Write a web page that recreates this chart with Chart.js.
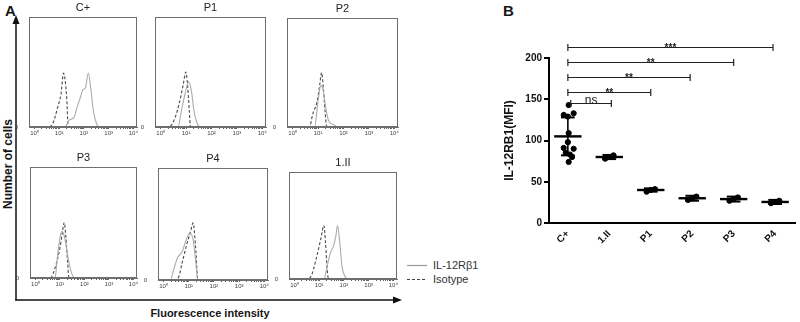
<!DOCTYPE html>
<html>
<head>
<meta charset="utf-8">
<script src="https://cdn.jsdelivr.net/npm/chart.js@4.4.0/dist/chart.umd.min.js"></script>
<style>
  body { margin: 0; background: #fff; font-family: "Liberation Sans", Arial, sans-serif; color: #151515; }
  #fig { position: relative; width: 800px; height: 322px; overflow: hidden; }
  .abs { position: absolute; }
  .panel-label { font-weight: bold; font-size: 15px; line-height: 15px; }
  .axis-title { font-weight: bold; white-space: nowrap; }
  .legend-text { font-size: 11px; color: #333; line-height: 11px; }
</style>
</head>
<body>
<div id="fig">
  <svg class="abs" style="left:0;top:0" width="800" height="322">
    <!-- panel A axes with arrows -->
    <line x1="16" y1="300.5" x2="16" y2="22" stroke="#111" stroke-width="1.5"/>
    <polygon points="16,15 12.5,24 19.5,24" fill="#111"/>
    <line x1="15.3" y1="300" x2="394" y2="300" stroke="#111" stroke-width="1.5"/>
    <polygon points="402,300 393,296.5 393,303.5" fill="#111"/>
    <!-- legend -->
    <line x1="407" y1="265.5" x2="427" y2="265.5" stroke="#9a9a9a" stroke-width="1.2"/>
    <line x1="407" y1="279.5" x2="427" y2="279.5" stroke="#444" stroke-width="1.2" stroke-dasharray="3,2"/>
  </svg>
  <div class="abs panel-label" style="left:5px;top:3px">A</div>
  <div class="abs panel-label" style="left:503px;top:3px">B</div>
  <div class="abs axis-title" style="left:8px;top:164px;font-size:12px;transform:translate(-50%,-50%) rotate(-90deg)">Number of cells</div>
  <div class="abs axis-title" style="left:210px;top:313px;font-size:11px;transform:translate(-50%,-50%)">Fluorescence intensity</div>
  <div class="abs legend-text" style="left:433px;top:260px">IL-12Rβ1</div>
  <div class="abs legend-text" style="left:433px;top:274px">Isotype</div>
  <canvas id="mfi" class="abs" width="300" height="262" style="left:500px;top:0"></canvas>
</div>
<script>
const fig = document.getElementById('fig');
const FONT = '"Liberation Sans", Arial, sans-serif';

// --- Panel A: histograms, [intensity, % of box height] ---
const cPlusIL = [[1, 0], [17, 0], [25, 6], [40, 9], [53, 18], [72, 27], [91, 34], [112, 35], [151, 49], [187, 36], [240, 15], [324, 3], [414, 0], [10000, 0]];
const cPlusIso = [[1, 0], [3.5, 0], [5.6, 3.6], [8.7, 18], [11.8, 30], [15, 49], [17.5, 42], [20.4, 24], [23, 0], [10000, 0]];
const p1IL = [[1, 0], [4.8, 0], [6.6, 15], [9.1, 30], [12.6, 41], [16.2, 33], [20.4, 15], [27.8, 3], [38, 0], [10000, 0]];
const p1Iso = [[1, 0], [2.1, 0], [3.5, 7], [5.6, 23], [7.8, 39], [9.8, 50], [11.7, 36], [13.4, 15], [15.1, 0], [10000, 0]];
const p2IL = [[1, 0], [7.3, 0], [10, 24], [12.9, 38], [16.1, 33], [20, 18], [25.8, 6], [41.5, 2], [66, 0], [10000, 0]];
const p2Iso = [[1, 0], [4.6, 0], [6.2, 12], [9.1, 23], [11.7, 39], [13.7, 50], [16.1, 36], [18.8, 15], [22, 0], [10000, 0]];
const p3IL = [[1, 0], [6.3, 0], [7.8, 18], [10, 36], [12, 42], [15.8, 36], [21.5, 18], [29.3, 5], [40, 0], [10000, 0]];
const p3Iso = [[1, 0], [4, 0], [6.3, 9], [10, 27], [12.8, 42], [14.9, 50], [17.4, 37], [20.3, 16], [23.6, 0], [10000, 0]];
const p4IL = [[1, 0], [1.85, 0], [2.5, 9], [3.6, 20], [5.4, 25], [7.4, 34], [11, 42], [14.9, 36], [18.6, 18], [23, 0], [10000, 0]];
const p4Iso = [[1, 0], [2.5, 0], [4, 3], [5.4, 15], [8.6, 33], [11.7, 43], [14.9, 51], [18.6, 30], [23, 0], [10000, 0]];
const iiIL = [[1, 0], [15.5, 0], [21, 12], [28, 24], [38, 31], [47, 40], [55, 50], [68, 34], [83, 12], [107, 3], [141, 0], [10000, 0]];
const iiIso = [[1, 0], [3.1, 0], [4.8, 3], [7.4, 18], [11.5, 37], [15.5, 50], [18, 34], [21, 9], [24, 0], [10000, 0]];

const decadeLabels = { 1: '10⁰', 10: '10¹', 100: '10²', 1000: '10³', 10000: '10⁴' };

// --- Panel B: MFI ---
const groups = ['C+', '1.II', 'P1', 'P2', 'P3', 'P4'];
const groupMeans = [105, 80, 40, 30, 29, 25.5];
const groupSD = [23, 2.5, 2, 3, 3, 2.5];
const cPlusX = [0.02, -0.1, 0.14, 0.0, 0.02, 0.0, -0.1, 0.14, -0.05, 0.05, 0.1, 0.02];
const cPlusY = [143, 131, 133, 129, 109, 98, 91, 90, 85, 83, 80, 74];
const restJitter = [-0.1, 0.0, 0.1];
const restY = [[78, 80, 82], [38, 40, 41], [28, 30, 32], [27, 29, 31], [24, 25.5, 27]];
const bracketFrom = [0, 0, 0, 0, 0.07];
const bracketTo = [4.95, 4, 2.95, 2, 1.05];
const bracketY = [213, 195, 177, 159, 145];
const bracketText = ['***', '**', '**', '**', 'ns'];

const toXY = arr => arr.map(([x, y]) => ({ x, y }));

const boxPlugin = {
  id: 'box',
  afterDraw(chart) {
    const { ctx, chartArea: a } = chart;
    ctx.save();
    ctx.strokeStyle = '#6e6e6e';
    ctx.lineWidth = 1;
    ctx.strokeRect(Math.round(a.left) + 0.5, Math.round(a.top) + 0.5,
      Math.round(a.right - a.left) - 1, Math.round(a.bottom - a.top) - 1);
    ctx.restore();
  }
};

function logTicks() {
  const ticks = [];
  [1, 10, 100, 1000].forEach(d => {
    for (let k = 1; k < 10; k++) ticks.push({ value: d * k, major: k === 1 });
  });
  ticks.push({ value: 10000, major: true });
  return ticks;
}

function histChart(p) {
  const canvas = document.createElement('canvas');
  canvas.className = 'abs';
  canvas.width = p.w + 22;
  canvas.height = p.h + 28;
  canvas.style.left = `${p.l - 14}px`;
  canvas.style.top = `${p.t - 16}px`;
  fig.appendChild(canvas);
  new Chart(canvas, {
    type: 'line',
    data: {
      datasets: [
        { label: 'IL-12Rβ1', data: toXY(p.il), borderColor: '#ababab', borderWidth: 1.1 },
        { label: 'Isotype', data: toXY(p.iso), borderColor: '#4a4a4a', borderWidth: 1.1, borderDash: [3, 2] }
      ]
    },
    options: {
      responsive: false,
      animation: false,
      layout: { padding: { right: 8 } },
      elements: { point: { radius: 0 }, line: { cubicInterpolationMode: 'monotone' } },
      plugins: {
        legend: { display: false },
        tooltip: { enabled: false },
        title: {
          display: true, text: p.title, fullSize: false, color: '#222',
          font: { size: 11, weight: 'normal', lineHeight: '14px', family: FONT },
          padding: { top: 0, bottom: 2 }
        }
      },
      scales: {
        x: {
          type: 'logarithmic', min: 0.63, max: 14000,
          afterFit: s => { s.height = 12; },
          afterBuildTicks: s => { s.ticks = logTicks(); },
          ticks: {
            callback: v => decadeLabels[v] || '',
            font: { size: 6, family: FONT }, color: '#444', padding: 1,
            autoSkip: false, maxRotation: 0
          },
          grid: { drawOnChartArea: false, tickLength: 2, color: '#666' },
          border: { color: '#6e6e6e' }
        },
        y: {
          min: 0, max: 100,
          afterFit: s => { s.width = 14; },
          afterBuildTicks: s => { s.ticks = [{ value: 0 }]; },
          ticks: { callback: () => '0', font: { size: 6, family: FONT }, color: '#444', padding: 3 },
          grid: { display: false },
          border: { color: '#6e6e6e' }
        }
      }
    },
    plugins: [boxPlugin]
  });
}

const panels = [
  { title: 'C+', il: cPlusIL, iso: cPlusIso, l: 29, t: 17, w: 108, h: 110 },
  { title: 'P1', il: p1IL, iso: p1Iso, l: 155, t: 17, w: 111, h: 110 },
  { title: 'P2', il: p2IL, iso: p2Iso, l: 287, t: 18, w: 111, h: 109 },
  { title: 'P3', il: p3IL, iso: p3Iso, l: 30, t: 167, w: 107, h: 111 },
  { title: 'P4', il: p4IL, iso: p4Iso, l: 158, t: 168, w: 110, h: 112 },
  { title: '1.II', il: iiIL, iso: iiIso, l: 289, t: 172, w: 108, h: 107 }
];
panels.forEach(histChart);

// mean +/- SD bars and significance brackets
const markersPlugin = {
  id: 'markers',
  afterDatasetsDraw(chart) {
    const { ctx, scales: { x, y } } = chart;
    const seg = (x1, y1, x2, y2) => {
      ctx.beginPath(); ctx.moveTo(x1, y1); ctx.lineTo(x2, y2); ctx.stroke();
    };
    ctx.save();
    ctx.strokeStyle = '#000';
    groupMeans.forEach((m, i) => {
      const cx = x.getPixelForValue(i);
      const half = x.getPixelForValue(i + 0.33) - cx;
      const cap = half / 2;
      const top = y.getPixelForValue(m + groupSD[i]);
      const bot = y.getPixelForValue(m - groupSD[i]);
      const my = y.getPixelForValue(m);
      ctx.lineWidth = 1.6;
      seg(cx, top, cx, bot);
      ctx.lineWidth = 2;
      seg(cx - cap, top, cx + cap, top);
      seg(cx - cap, bot, cx + cap, bot);
      ctx.lineWidth = 2.4;
      seg(cx - half, my, cx + half, my);
    });
    ctx.strokeStyle = '#222';
    ctx.fillStyle = '#222';
    ctx.textAlign = 'center';
    bracketY.forEach((v, i) => {
      const x1 = x.getPixelForValue(bracketFrom[i]);
      const x2 = x.getPixelForValue(bracketTo[i]);
      const yy = Math.round(y.getPixelForValue(v)) + 0.5;
      ctx.lineWidth = 1.2;
      seg(x1, yy, x2, yy);
      seg(x1, yy - 3.5, x1, yy + 3.5);
      seg(x2, yy - 3.5, x2, yy + 3.5);
      ctx.textBaseline = 'alphabetic';
      if (bracketText[i] === 'ns') {
        ctx.font = `12px ${FONT}`;
        ctx.fillText('ns', (x1 + x2) / 2, yy);
      } else {
        ctx.font = `bold 10px ${FONT}`;
        ctx.fillText(bracketText[i], (x1 + x2) / 2, yy + 3);
      }
    });
    ctx.restore();
  }
};

const restPoints = [];
restY.forEach((vals, g) => {
  vals.forEach((v, k) => restPoints.push({ x: g + 1 + restJitter[k], y: v }));
});

new Chart(document.getElementById('mfi'), {
  type: 'scatter',
  data: {
    datasets: [
      { data: cPlusY.map((v, i) => ({ x: cPlusX[i], y: v })), backgroundColor: '#000', borderColor: '#000', pointRadius: 2.6 },
      { data: restPoints, backgroundColor: '#000', borderColor: '#000', pointRadius: 2.6 }
    ]
  },
  options: {
    responsive: false,
    animation: false,
    layout: { padding: { top: 58, right: 3, left: 0, bottom: 0 } },
    plugins: { legend: { display: false }, tooltip: { enabled: false } },
    scales: {
      x: {
        min: -0.455, max: 5.48,
        afterFit: s => { s.height = 39; },
        afterBuildTicks: s => { s.ticks = groups.map((g, i) => ({ value: i })); },
        ticks: {
          callback: (v, i) => groups[i],
          font: { size: 10, weight: 'bold', family: FONT }, color: '#111',
          minRotation: 45, maxRotation: 45, autoSkip: false, padding: 5
        },
        grid: { display: false, drawTicks: false },
        border: { color: '#000', width: 2 }
      },
      y: {
        min: 0, max: 200,
        afterFit: s => { s.width = 49; },
        ticks: { stepSize: 50, font: { size: 10, weight: 'bold', family: FONT }, color: '#111', padding: 2 },
        grid: { drawOnChartArea: false, tickLength: 5, lineWidth: 2, color: '#000' },
        border: { color: '#000', width: 2 },
        title: {
          display: true, text: 'IL-12RB1(MFI)', color: '#111',
          font: { size: 12, weight: 'bold', family: FONT }, padding: { top: 2, bottom: 0 }
        }
      }
    }
  },
  plugins: [markersPlugin]
});
</script>
</body>
</html>
